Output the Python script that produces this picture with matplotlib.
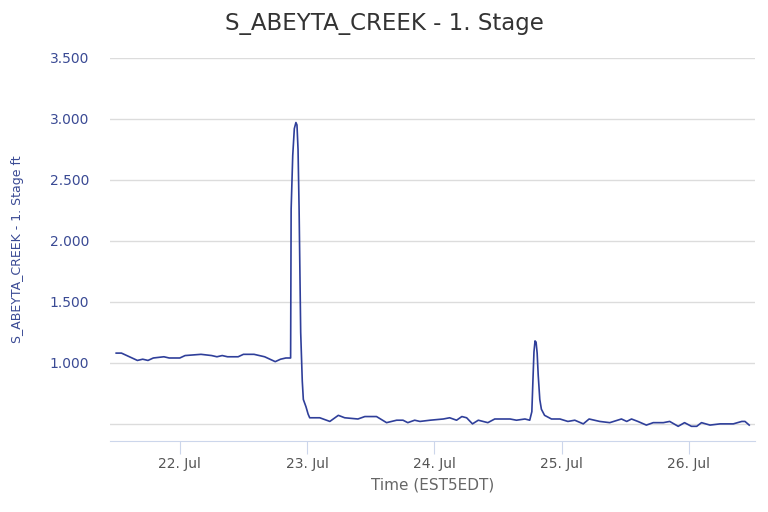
import matplotlib
matplotlib.use("Agg")
import matplotlib.pyplot as plt
import matplotlib.dates as mdates
from matplotlib.ticker import FuncFormatter
from datetime import datetime, timedelta

# hours since 21 Jul 00:00, and stage in ft
hours = [12, 13, 16, 17, 18, 19, 21, 22, 24, 25, 28, 30, 31, 32, 33, 35, 36, 38, 40, 42, 43, 44,
         44.9, 45.0, 45.3, 45.6, 45.9, 46.1, 46.3, 46.5, 46.8, 47.1, 47.3, 47.8, 48.2, 48.5,
         50.4, 52.3, 53.9, 55.1, 57.6, 58.9,
         61.1, 63.0, 64.9, 66.1, 67.0, 68.3, 69.3, 71.2, 73.7, 74.9, 76.2, 77.2, 78.1, 79.2, 80.3,
         82.1, 83.4, 84.7, 86.3, 87.5, 89.1, 90.0, 90.4, 90.6, 90.8, 91.0, 91.2, 91.4, 91.6, 91.9,
         92.2, 92.8, 94.1, 95.7,
         97.2, 98.5, 100.1, 101.2, 103.2, 105.1, 107.3, 108.3, 109.2, 110.4, 112.0, 113.3, 115.2,
         116.4, 118.0, 119.2, 120.5, 121.5, 122.4, 124.0, 125.9, 128.4, 130.0, 130.6, 131.4]
stage = [1.08, 1.08, 1.02, 1.03, 1.02, 1.04, 1.05, 1.04, 1.04, 1.06, 1.07, 1.06, 1.05, 1.06, 1.05,
         1.05, 1.07, 1.07, 1.05, 1.01, 1.03, 1.04,
         1.04, 2.26, 2.70, 2.92, 2.97, 2.95, 2.75, 2.26, 1.25, 0.85, 0.70, 0.64, 0.58, 0.55,
         0.55, 0.52, 0.57, 0.55, 0.54, 0.56,
         0.56, 0.51, 0.53, 0.53, 0.51, 0.53, 0.52, 0.53, 0.54, 0.55, 0.53, 0.56, 0.55, 0.50, 0.53,
         0.51, 0.54, 0.54, 0.54, 0.53, 0.54, 0.53, 0.60, 0.85, 1.09, 1.18, 1.17, 1.08, 0.90, 0.70,
         0.62, 0.57, 0.54, 0.54,
         0.52, 0.53, 0.50, 0.54, 0.52, 0.51, 0.54, 0.52, 0.54, 0.52, 0.49, 0.51, 0.51,
         0.52, 0.48, 0.51, 0.48, 0.48, 0.51, 0.49, 0.50, 0.50, 0.52, 0.52, 0.49]

start = datetime(2023, 7, 21)
times = [start + timedelta(hours=h) for h in hours]
y_ticks = [0.5, 1.0, 1.5, 2.0, 2.5, 3.0, 3.5]

fig = plt.figure(figsize=(7.68, 5.12), dpi=100)
ax = fig.add_axes([0.143, 0.139, 0.840, 0.748])

ax.plot(times, stage, color="#2f3f9a", linewidth=1.2)

ax.set_xlim(start + timedelta(days=0.45), start + timedelta(days=5.52))
ax.set_ylim(0.361, 3.5)
ax.set_yticks(y_ticks)
ax.yaxis.set_major_formatter(FuncFormatter(lambda v, p: "" if v < 0.9 else f"{v:.3f}"))
ax.grid(axis="y", color="#dcdcdc", linewidth=1)
ax.set_axisbelow(True)

ax.xaxis.set_major_locator(mdates.DayLocator())
ax.xaxis.set_major_formatter(mdates.DateFormatter("%d. %b"))

for s in ["top", "right", "left"]:
    ax.spines[s].set_visible(False)
ax.spines["bottom"].set_color("#ccd6eb")

ax.tick_params(axis="y", length=0, pad=15, labelsize=10, labelcolor="#3a4a94")
ax.tick_params(axis="x", length=9, color="#ccd6eb", pad=3, labelsize=10, labelcolor="#555555")

ax.set_xlabel("Time (EST5EDT)", fontsize=11, color="#666666", labelpad=4)
ax.set_ylabel("S_ABEYTA_CREEK - 1. Stage ft", fontsize=9, color="#3a4a94", labelpad=18)
fig.text(0.5, 0.955, "S_ABEYTA_CREEK - 1. Stage", ha="center", va="center",
         fontsize=16.5, color="#333333")

fig.savefig("out.png", dpi=100)
